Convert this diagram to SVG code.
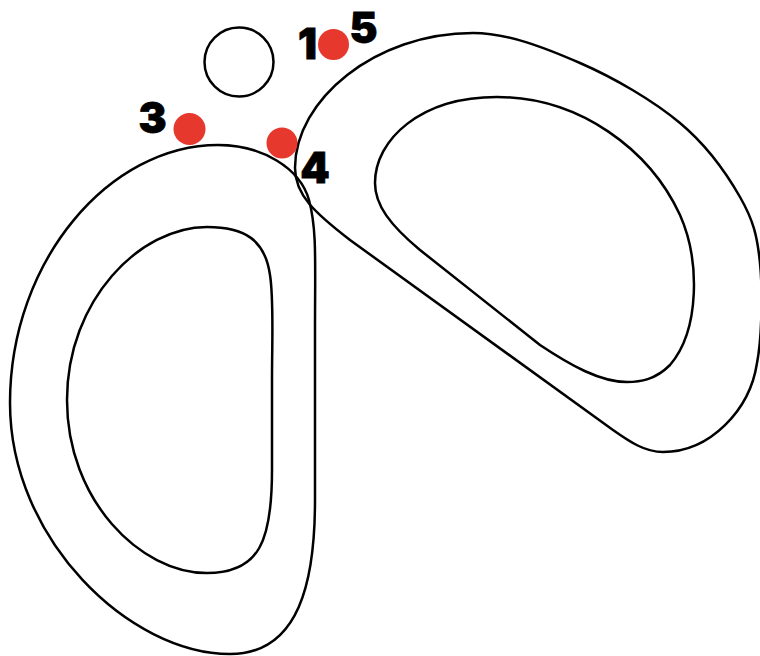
<svg xmlns="http://www.w3.org/2000/svg" width="760" height="656" viewBox="0 0 760 656">
<style>
.ln{fill:none;stroke:#000;stroke-width:2.5;stroke-linejoin:round}
.dot{fill:#E6382C}
.lbl{font-family:Inter,"Liberation Sans",sans-serif;font-weight:900;font-size:42px;fill:#000;text-anchor:middle;stroke:#000;stroke-width:0.8}
</style>
<rect width="760" height="656" fill="#fff"/>
<g id="left-outer"><path class="ln" d="M218,145 C262,145 300,168 309,200 C317,230 315,260 315,330 L315,500 C315,580 300,654 230,654 C130,654 10,540 10,403 C10,260 110,145 218,145 Z"/></g>
<g id="left-inner"><path class="ln" d="M207,227 C245,227 265,240 270,275 C274,300 272,340 272,380 L272,470 C272,540 260,573 207,573 C140,573 67,500 67,400 C67,300 140,227 207,227 Z"/></g>
<g id="right-outer"><path class="ln" d="M473,33 C508,33 545.5,48 580,63 C614.5,78 653.3,100.7 680,123 C706.7,145.3 726.7,173.7 740,197 C753.3,220.3 757.2,235.3 760,263 C762.8,290.7 762,336.8 757,363 C750,410 710,452 663,452 C645,452 630,442 613,430 L350,240 C315,213 295,195 295,168 C295,100 375,33 473,33 Z"/></g>
<g id="right-inner"><path class="ln" d="M497,97 C580,97 650,150 680,215 C700,260 700,330 670,365 C655,380 640,382 627,382 C600,382 570,365 540,345 L420,250 C390,225 375,205 375,183 C375,140 420,97 497,97 Z"/></g>
<g id="small-circle"><circle class="ln" cx="239" cy="62" r="34.5"/></g>
<g id="dot-15"><circle class="dot" cx="333.5" cy="44.5" r="15.5"/></g>
<g id="dot-3"><circle class="dot" cx="189.5" cy="129" r="16"/></g>
<g id="dot-4"><circle class="dot" cx="282" cy="143" r="15.5"/></g>
<g id="labels">
<text class="lbl" x="307.5" y="58.5">1</text>
<text class="lbl" x="363.5" y="42.5">5</text>
<text class="lbl" x="152.5" y="132.5">3</text>
<text class="lbl" x="315" y="182.5">4</text>
</g>
</svg>
